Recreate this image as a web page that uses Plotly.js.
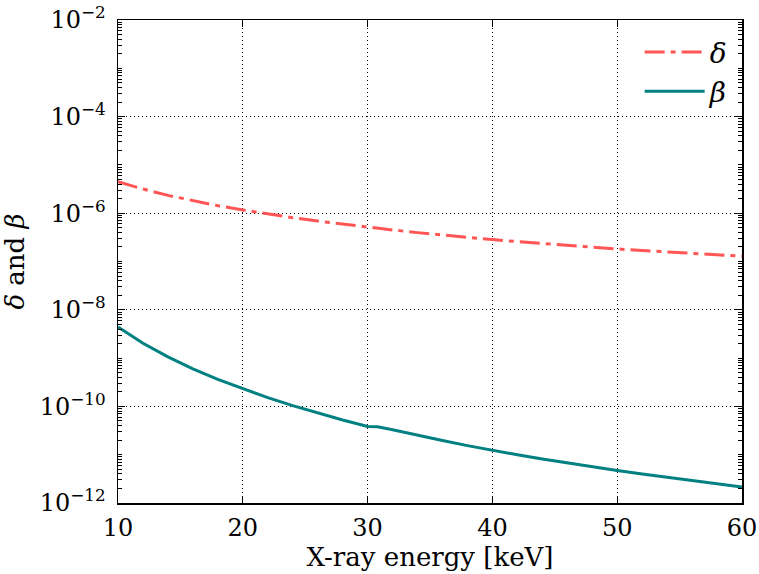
<!DOCTYPE html>
<html><head><meta charset="utf-8">
<script src="https://cdn.plot.ly/plotly-3.0.1.min.js"></script>
<style>body{margin:0;background:#fff}#c{width:759px;height:574px}</style>
</head><body><div id="c"></div>
<script>
// X-ray energy [keV]
const energyDelta = [10,12,14,16,18,20,22,24,26,28,30,32,34,36,38,40,42,44,46,48,50,52,54,56,58,60];
const delta = [4.51e-6,3.16e-6,2.34e-6,1.80e-6,1.43e-6,1.17e-6,9.64e-7,8.08e-7,6.87e-7,5.90e-7,5.13e-7,4.49e-7,3.96e-7,3.52e-7,3.15e-7,2.84e-7,2.58e-7,2.35e-7,2.15e-7,1.98e-7,1.82e-7,1.69e-7,1.57e-7,1.47e-7,1.37e-7,1.29e-7];
const energyBeta = [10,12,14,16,18,20,22,24,26,28,30,30.8,32,34,36,38,40,42,44,46,48,50,52,54,56,58,60];
const beta = [4.40e-9,2.03e-9,1.06e-9,6.0e-10,3.64e-10,2.32e-10,1.52e-10,1.04e-10,7.26e-11,5.24e-11,3.85e-11,3.80e-11,3.30e-11,2.52e-11,1.96e-11,1.54e-11,1.23e-11,9.97e-12,8.17e-12,6.76e-12,5.64e-12,4.73e-12,3.99e-12,3.39e-12,2.89e-12,2.48e-12,2.14e-12];
const xTicks = [10,20,30,40,50,60];
const yExps = [-12,-10,-8,-6,-4,-2];

const yTickVals = yExps.map(e => Math.pow(10, e));
const yTickText = yExps.map(e => '10<sup>\u2212' + (-e) + '</sup>');
const yMinor = [];
for (let e = -12; e < -2; e++) for (let m = 1; m <= 9; m++) {
  if (m === 1 && e % 2 === 0) continue;
  yMinor.push(m * Math.pow(10, e));
}

const font = 'DejaVu Serif';
const traces = [
  {x: energyDelta, y: delta, name: '<i>δ</i>', mode: 'lines',
   line: {color: '#ff5555', width: 3, dash: '20px,6px,5px,6px'}},
  {x: energyBeta, y: beta, name: '<i>β</i>', mode: 'lines',
   line: {color: '#008080', width: 3}}
];
const layout = {
  width: 759, height: 574,
  margin: {l: 118, r: 17, t: 20, b: 71},
  paper_bgcolor: '#fff', plot_bgcolor: '#fff',
  font: {family: font, color: '#000', size: 24},
  showlegend: true,
  legend: {x: 0.985, y: 0.985, xanchor: 'right', yanchor: 'top', bgcolor: 'rgba(0,0,0,0)',
           font: {size: 28, family: font}, itemwidth: 60, tracegroupgap: 4},
  xaxis: {
    range: [10, 60], tickvals: xTicks, ticktext: xTicks.map(String),
    ticks: 'inside', ticklen: 7, tickwidth: 1, tickcolor: '#000',
    showline: true, linecolor: '#000', linewidth: 1.5, mirror: 'ticks',
    showgrid: true, gridcolor: '#000', gridwidth: 1, griddash: '1px,3px',
    zeroline: false, tickfont: {size: 24, family: font}, ticklabelstandoff: 3,
    title: {text: 'X-ray energy [keV]', font: {size: 26, family: font}, standoff: 4}
  },
  yaxis: {
    type: 'log', range: [-12, -2], tickmode: 'array', tickvals: yTickVals, ticktext: yTickText,
    ticks: 'inside', ticklen: 7, tickwidth: 1, tickcolor: '#000',
    minor: {tickmode: 'array', tickvals: yMinor, ticks: 'inside', ticklen: 4, tickcolor: '#000', showgrid: false},
    showline: true, linecolor: '#000', linewidth: 1.5, mirror: 'ticks',
    showgrid: true, gridcolor: '#000', gridwidth: 1, griddash: '1px,3px',
    zeroline: false, tickfont: {size: 24, family: font}, ticklabelstandoff: 6,
    title: {text: '<i>δ</i> and <i>β</i>', font: {size: 26, family: font}, standoff: 8}
  }
};
Plotly.newPlot('c', traces, layout, {displayModeBar: false, staticPlot: true});
</script>
</body></html>
